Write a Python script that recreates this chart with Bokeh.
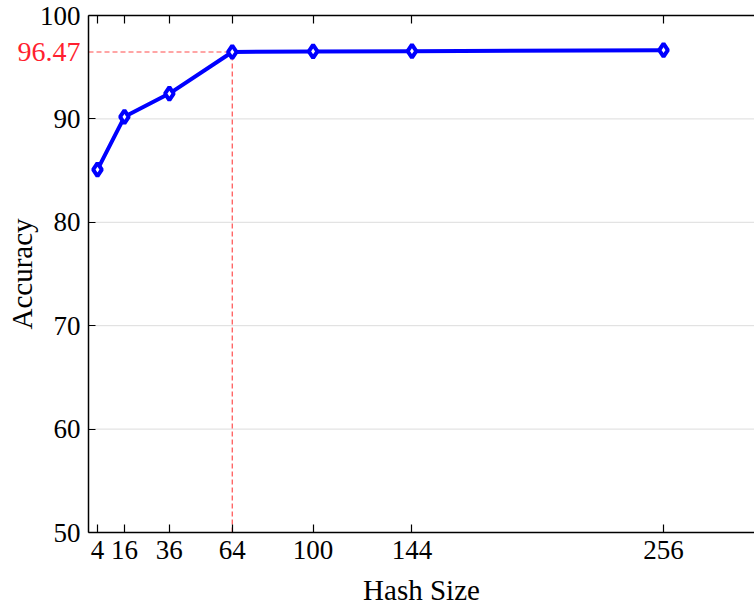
import math
from bokeh.plotting import figure
from bokeh.models import Range1d, LinearAxis, FixedTicker, Label
from bokeh.embed import file_html
from bokeh.resources import INLINE

# Data
hash_size = [4, 16, 36, 64, 100, 144, 256]
accuracy = [85.1, 90.2, 92.45, 96.47, 96.52, 96.55, 96.65]
y_ticks = [50, 60, 70, 80, 90, 100]
grid_ticks = [60, 70, 80, 90]
highlight_idx = 3
x_label = "Hash Size"
y_label = "Accuracy"

X_MIN, X_MAX = 0, 296.5
Y_MIN, Y_MAX = 50, 100

FONT = "Liberation Serif"
W, H = 754, 606
LEFT, TOP, BOTTOM = 88, 15, 532   # frame of the axes box in pixels

# Whole canvas is the drawing area; axes are placed at fixed data positions
xs = (X_MAX - X_MIN) / (W - LEFT)
ys = (Y_MAX - Y_MIN) / (BOTTOM - TOP)
x_range = Range1d(X_MIN - LEFT * xs, X_MAX)
y_range = Range1d(Y_MIN - (H - BOTTOM) * ys, Y_MAX + TOP * ys)

p = figure(width=W, height=H, x_range=x_range, y_range=y_range,
           output_backend="svg", toolbar_location=None, min_border=0,
           min_border_left=0, min_border_right=0, min_border_top=0, min_border_bottom=0)
p.outline_line_color = None
p.background_fill_color = "white"
p.border_fill_color = "white"

# Grid (horizontal lines only inside the axes box)
p.xgrid.visible = False
p.ygrid.visible = False
n = len(grid_ticks)
p.segment(x0=[X_MIN] * n, x1=[X_MAX] * n, y0=grid_ticks, y1=grid_ticks,
          line_color="#dcdcdc", line_width=1)

def style_axis(ax, ticks, tick_len, bounds, loc):
    ax.ticker = FixedTicker(ticks=ticks)
    ax.bounds = bounds
    ax.fixed_location = loc
    ax.major_tick_in = tick_len
    ax.major_tick_out = 0
    ax.minor_tick_line_color = None
    ax.axis_line_color = "black"
    ax.axis_line_width = 1.5
    ax.major_tick_line_color = "black"
    ax.major_tick_line_width = 1.2
    ax.major_label_text_font = FONT
    ax.major_label_text_font_size = "27px"
    ax.major_label_text_color = "black"
    ax.axis_label = None

style_axis(p.xaxis[0], hash_size, 8, (X_MIN, X_MAX), Y_MIN)
p.xaxis[0].major_label_standoff = 8

style_axis(p.yaxis[0], y_ticks, 7, (Y_MIN, Y_MAX), X_MIN)
p.yaxis[0].major_label_standoff = 8

top = LinearAxis()
style_axis(top, hash_size, 8, (X_MIN, X_MAX), Y_MAX)
top.major_label_text_font_size = "0px"
top.major_label_standoff = 0
top.major_label_text_color = None
p.add_layout(top, "above")

# Highlight dashed lines
hx = hash_size[highlight_idx]
hy = accuracy[highlight_idx]
p.segment(x0=[X_MIN, hx], y0=[hy, Y_MIN], x1=[hx, hx], y1=[hy, hy],
          line_color="#ff0000", line_alpha=0.7, line_width=1.2, line_dash="5 3")

# Main series
p.line(hash_size, accuracy, line_color="#0000ff", line_width=4)
p.scatter(hash_size, accuracy, marker="diamond", size=13, fill_color="white",
          line_color="#0000ff", line_width=4)

# Highlight value label
p.add_layout(Label(x=X_MIN, y=hy, x_offset=-8, text=f"{hy:.2f}", text_align="right",
                   text_baseline="middle", text_color="#ff1f30", text_font=FONT,
                   text_font_size="28px"))

# Axis titles
p.add_layout(Label(x=(X_MIN + X_MAX) / 2, y=Y_MIN, y_offset=-57, text=x_label,
                   text_align="center", text_baseline="middle", text_color="black",
                   text_font=FONT, text_font_size="29px"))
p.add_layout(Label(x=X_MIN, y=(Y_MIN + Y_MAX) / 2, x_offset=-67, text=y_label, angle=math.pi / 2,
                   text_align="center", text_baseline="middle", text_color="black",
                   text_font=FONT, text_font_size="29px"))

open("out.html", "w").write(file_html(p, INLINE))
